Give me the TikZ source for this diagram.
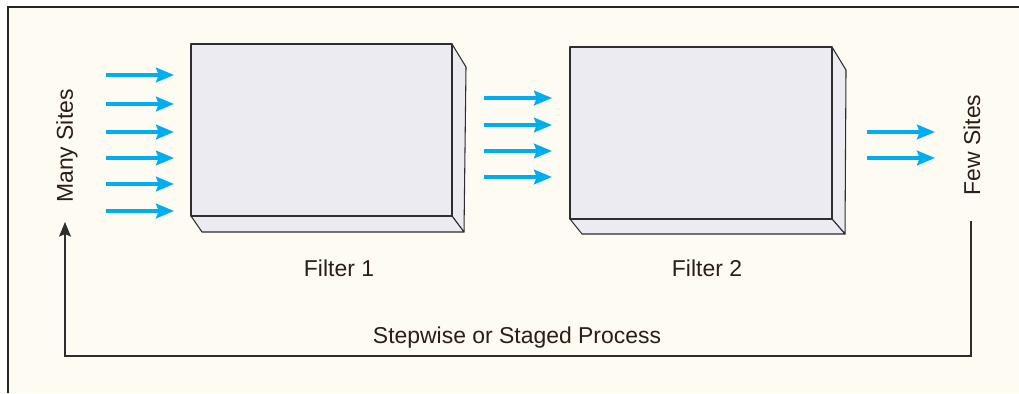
\documentclass[tikz,border=0pt]{standalone}
\usepackage{fontspec}
\setmainfont{Liberation Sans}
\usetikzlibrary{arrows.meta}
\definecolor{cream}{HTML}{FEFBF2}
\definecolor{framec}{HTML}{252525}
\definecolor{facec}{HTML}{EBEBF1}
\definecolor{edgec}{HTML}{2E2E2E}
\definecolor{flowc}{HTML}{00AEEF}
\definecolor{txtc}{HTML}{2B1D17}
\tikzset{
  flow/.style={draw=flowc, line width=2.3pt, -{Stealth[length=13.5pt,width=11pt,inset=2pt]}},
  face/.style={fill=facec, draw=edgec, line width=0.8pt, line join=round},
  lbl/.style={text=txtc, font=\fontsize{17.2}{19}\selectfont, inner sep=0pt},
  loopline/.style={draw=edgec, line width=0.8pt},
}
\begin{document}
\begin{tikzpicture}[x=0.75pt,y=-0.75pt]
\useasboundingbox (0,0) rectangle (1019,393);
\fill[white] (0,0) rectangle (1019,393);
\fill[cream] (8,7) rectangle (1019,393);
\draw[framec, line width=2pt] (8,393) -- (8,7) -- (1019,7);

% Filter 1 box
\coordinate (f1a) at (191,44);
\coordinate (f1b) at (452,44);
\coordinate (f1c) at (452,216);
\coordinate (f1d) at (191,216);
\coordinate (f1e) at (466,67);
\coordinate (f1f) at (464,232);
\coordinate (f1g) at (202,232);
\path[face] (f1b) -- (f1e) -- (f1f) -- (f1c) -- cycle;
\path[face] (f1d) -- (f1c) -- (f1f) -- (f1g) -- cycle;
\path[face] (f1a) rectangle (f1c);

% Filter 2 box
\coordinate (f2a) at (570,47);
\coordinate (f2b) at (832,47);
\coordinate (f2c) at (832,219);
\coordinate (f2d) at (570,219);
\coordinate (f2e) at (846,70);
\coordinate (f2f) at (845,234);
\coordinate (f2g) at (582,234);
\path[face] (f2b) -- (f2e) -- (f2f) -- (f2c) -- cycle;
\path[face] (f2d) -- (f2c) -- (f2f) -- (f2g) -- cycle;
\path[face] (f2a) rectangle (f2c);

% labels
\node[lbl] (l1) at (339,268) {Filter 1};
\node[lbl] (l2) at (707,268) {Filter 2};
\node[lbl] (lp) at (517,338) {Stepwise or Staged Process};
\node[lbl, rotate=90] (many) at (67,146) {Many Sites};
\node[lbl, rotate=90] (few) at (972,145) {Few Sites};

% flow arrows set 1
\foreach \yy/\nm in {75/a,104/b,132/c,158/d,184/e,211/f}{
  \coordinate (s1\nm) at (106,\yy);
  \coordinate (t1\nm) at (174,\yy);
  \draw[flow] (s1\nm) -- (t1\nm);
}
% set 2
\foreach \yy/\nm in {98/a,125/b,151/c,177/d}{
  \coordinate (s2\nm) at (484,\yy);
  \coordinate (t2\nm) at (552,\yy);
  \draw[flow] (s2\nm) -- (t2\nm);
}
% set 3
\foreach \yy/\nm in {132/a,158/b}{
  \coordinate (s3\nm) at (867,\yy);
  \coordinate (t3\nm) at (935,\yy);
  \draw[flow] (s3\nm) -- (t3\nm);
}

% loop
\coordinate (lr) at (971,221);
\coordinate (lbr) at (971,356);
\coordinate (lbl) at (65,356);
\coordinate (lt) at (65,222);
\draw[loopline, -{Stealth[length=11pt,width=9pt,inset=2pt]}] (lr) -- (lbr) -- (lbl) -- (lt);
\end{tikzpicture}
\end{document}
